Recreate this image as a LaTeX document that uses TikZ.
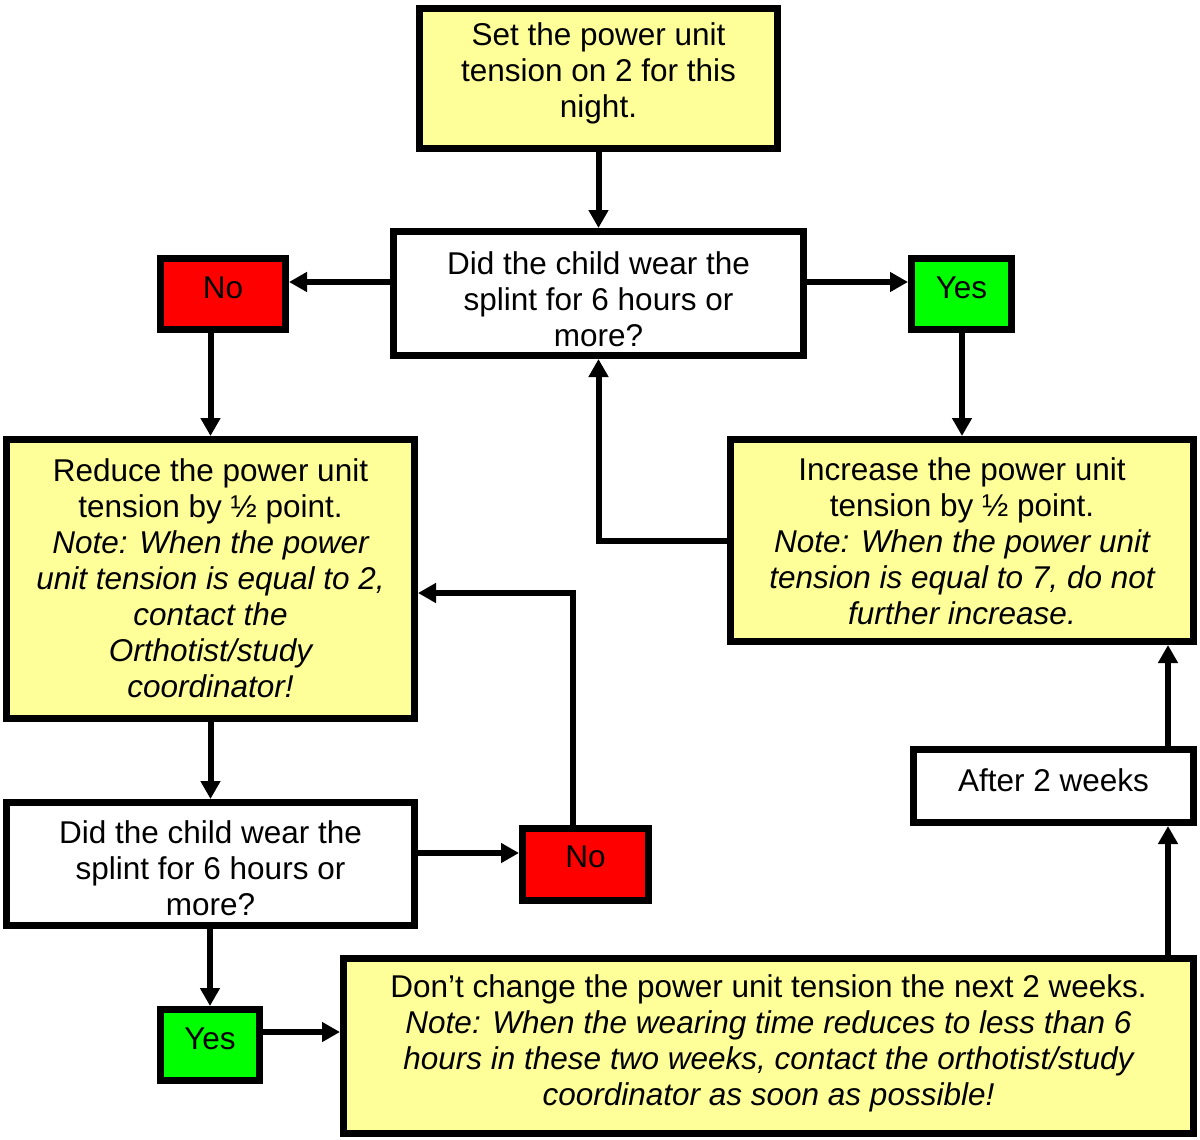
\documentclass[tikz,border=0pt]{standalone}
\usepackage{fontspec}
\setmainfont{Liberation Sans}
\usetikzlibrary{arrows.meta,calc}
\definecolor{boxyellow}{HTML}{FFFF99}
\definecolor{boxred}{HTML}{FF0000}
\definecolor{boxgreen}{HTML}{00FF00}
\begin{document}
\begin{tikzpicture}[x=0.5pt,y=-0.5pt,
  box/.style={draw=black, line width=3.5pt, inner sep=0pt},
  ybox/.style={box, fill=boxyellow},
  wbox/.style={box, fill=white},
  rbox/.style={box, fill=boxred},
  gbox/.style={box, fill=boxgreen},
  txt/.style={align=center, inner sep=0pt, font=\fontsize{15.75}{18}\selectfont},
  arr/.style={line width=3pt, -{Triangle[length=9pt,width=9.5pt]}}]
\useasboundingbox[fill=white] (0,0) rectangle (1200,1140);

% boxes
\node[ybox, minimum width=179pt, minimum height=70pt] (top) at (598.5,78.5) {};
\node[wbox, minimum width=205pt, minimum height=62pt] (q1) at (598.5,293.5) {};
\node[rbox, minimum width=62.5pt, minimum height=35.5pt] (no1) at (223,294) {};
\node[gbox, minimum width=50pt, minimum height=35.5pt] (yes1) at (961.5,294) {};
\node[ybox, minimum width=204pt, minimum height=139.5pt] (red) at (210.5,579) {};
\node[ybox, minimum width=231.5pt, minimum height=101pt] (inc) at (962,540.5) {};
\node[wbox, minimum width=204pt, minimum height=61.5pt] (q2) at (210.5,864) {};
\node[rbox, minimum width=63pt, minimum height=36pt] (no2) at (585.5,864.5) {};
\node[wbox, minimum width=140pt, minimum height=36.5pt] (after) at (1053.5,786) {};
\node[gbox, minimum width=49.5pt, minimum height=35.5pt] (yes2) at (210,1045) {};
\node[ybox, minimum width=425pt, minimum height=87.5pt] (dont) at (768.5,1046) {};

% texts
\node[txt] (toplbl) at (598.5,73) {Set the power unit\\tension on 2 for this\\night.};
\node[txt] (q1lbl) at (598.5,299) {Did the child wear the\\splint for 6 hours or\\more?};
\node[txt] (no1lbl) at (223,288) {No};
\node[txt] (yes1lbl) at (961.5,288) {Yes};
\node[txt] (redlbl) at (210.5,578) {Reduce the power unit\\tension by ½ point.\\\itshape Note: When the power\\\itshape unit tension is equal to 2,\\\itshape contact the\\\itshape Orthotist/study\\\itshape coordinator!};
\node[txt] (inclbl) at (962,541.5) {Increase the power unit\\tension by ½ point.\\\itshape Note: When the power unit\\\itshape tension is equal to 7, do not\\\itshape further increase.};
\node[txt] (q2lbl) at (210.5,868.5) {Did the child wear the\\splint for 6 hours or\\more?};
\node[txt] (no2lbl) at (585.5,857) {No};
\node[txt] (afterlbl) at (1053.5,780) {After 2 weeks};
\node[txt] (yes2lbl) at (210,1039) {Yes};
\node[txt] (dontlbl) at (768.5,1043) {Don’t change the power unit tension the next 2 weeks.\\\itshape Note: When the wearing time reduces to less than 6\\\itshape hours in these two weeks, contact the orthotist/study\\\itshape coordinator as soon as possible!};

% helper coordinates
\coordinate (q1l) at ([yshift=5.75pt]q1.west);
\coordinate (q1r) at ([yshift=5.75pt]q1.east);
\coordinate (q2r) at ([yshift=5.5pt]q2.east);
\coordinate (no2up) at ([xshift=-6.25pt]no2.north);
\coordinate (redr) at ([yshift=-7pt]red.east);
\coordinate (yes2r) at ([yshift=6.5pt]yes2.east);
\coordinate (xr) at (1168,0);

% connectors
\draw[arr] (top.south) -- (q1.north);
\draw[arr] (q1l) -- (q1l -| no1.east);
\draw[arr] (q1r) -- (q1r -| yes1.west);
\draw[arr] (no1.south -| red.north) -- (red.north);
\draw[arr] (yes1.south -| inc.north) -- (inc.north);
\draw[arr] (inc.west) -| (q1.south);
\draw[arr] (red.south) -- (q2.north);
\draw[arr] (q2r) -- (q2r -| no2.west);
\draw[arr] (no2up) |- (redr);
\draw[arr] (q2.south -| yes2.north) -- (yes2.north);
\draw[arr] (yes2r) -- (yes2r -| dont.west);
\draw[arr] (dont.north -| xr) -- (after.south -| xr);
\draw[arr] (after.north -| xr) -- (inc.south -| xr);
\end{tikzpicture}
\end{document}
